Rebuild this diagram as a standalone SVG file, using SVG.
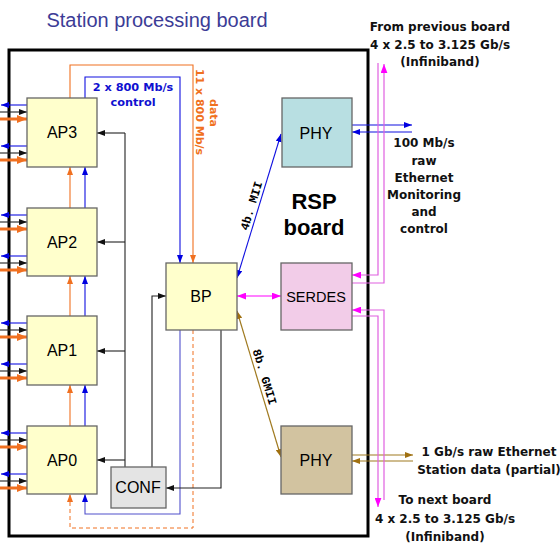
<svg xmlns="http://www.w3.org/2000/svg" width="560" height="543" viewBox="0 0 560 543">
<defs>
<style>
.box{stroke:#666;stroke-width:1.3}
.lbl{font-family:"Liberation Sans",Arial,sans-serif;font-size:16px;fill:#000;text-anchor:middle}
.cs{font-family:"DejaVu Sans",sans-serif;font-weight:bold;text-anchor:middle}
.k{stroke:#222;stroke-width:1.1;fill:none;marker-end:url(#ak)}
.b{stroke:#1010e0;stroke-width:1.1;fill:none;marker-end:url(#ab)}
.o{stroke:#f07020;stroke-width:1.1;fill:none;marker-end:url(#ao)}
.ot{stroke:#f07020;stroke-width:3;fill:none;marker-end:url(#aoT)}
.m{stroke:#e060e0;stroke-width:1.2;fill:none;marker-end:url(#am)}
.br{stroke:#a07a20;stroke-width:1.2;fill:none;marker-end:url(#abr)}
</style>
<marker id="ak" viewBox="0 0 8 6" refX="8" refY="3" markerWidth="8" markerHeight="6" markerUnits="userSpaceOnUse" orient="auto-start-reverse"><path d="M0,0L8,3L0,6z" fill="#111"/></marker>
<marker id="ab" viewBox="0 0 8 6" refX="8" refY="3" markerWidth="8" markerHeight="6" markerUnits="userSpaceOnUse" orient="auto-start-reverse"><path d="M0,0L8,3L0,6z" fill="#0000e0"/></marker>
<marker id="ao" viewBox="0 0 8 6" refX="8" refY="3" markerWidth="8" markerHeight="6" markerUnits="userSpaceOnUse" orient="auto-start-reverse"><path d="M0,0L8,3L0,6z" fill="#f07020"/></marker>
<marker id="aoT" viewBox="0 0 10 8" refX="10" refY="4" markerWidth="10" markerHeight="8" markerUnits="userSpaceOnUse" orient="auto-start-reverse"><path d="M0,0L10,4L0,8z" fill="#f07020"/></marker>
<marker id="am" viewBox="0 0 8 6" refX="8" refY="3" markerWidth="9" markerHeight="7" markerUnits="userSpaceOnUse" orient="auto-start-reverse"><path d="M0,0L8,3L0,6z" fill="#ff00ff"/></marker>
<marker id="abr" viewBox="0 0 8 6" refX="8" refY="3" markerWidth="8" markerHeight="6" markerUnits="userSpaceOnUse" orient="auto-start-reverse"><path d="M0,0L8,3L0,6z" fill="#a07010"/></marker>
</defs>
<rect width="560" height="543" fill="#fff"/>
<text x="157" y="27" font-family="Liberation Sans,Arial,sans-serif" font-size="20" fill="#3c3c96" text-anchor="middle">Station processing board</text>
<g id="board"><rect x="9" y="50" width="359" height="486" fill="#fff" stroke="#000" stroke-width="3"/>
<text x="314" y="209" font-family="Liberation Sans,Arial,sans-serif" font-size="22" font-weight="bold" text-anchor="middle">RSP</text>
<text x="314" y="235" font-family="Liberation Sans,Arial,sans-serif" font-size="22" font-weight="bold" text-anchor="middle">board</text></g>
<g id="connectors">
<!-- left AP ports -->
<g>
<line class="b" x1="27" y1="105" x2="1" y2="105"/><line class="k" x1="0" y1="112" x2="27" y2="112"/><line class="ot" x1="0" y1="119" x2="27" y2="119"/>
<line class="b" x1="27" y1="146" x2="1" y2="146"/><line class="k" x1="0" y1="153" x2="27" y2="153"/><line class="ot" x1="0" y1="160" x2="27" y2="160"/>
<line class="b" x1="27" y1="215" x2="1" y2="215"/><line class="k" x1="0" y1="222" x2="27" y2="222"/><line class="ot" x1="0" y1="229" x2="27" y2="229"/>
<line class="b" x1="27" y1="256" x2="1" y2="256"/><line class="k" x1="0" y1="263" x2="27" y2="263"/><line class="ot" x1="0" y1="270" x2="27" y2="270"/>
<line class="b" x1="27" y1="323" x2="1" y2="323"/><line class="k" x1="0" y1="330" x2="27" y2="330"/><line class="ot" x1="0" y1="337" x2="27" y2="337"/>
<line class="b" x1="27" y1="364" x2="1" y2="364"/><line class="k" x1="0" y1="371" x2="27" y2="371"/><line class="ot" x1="0" y1="378" x2="27" y2="378"/>
<line class="b" x1="27" y1="433" x2="1" y2="433"/><line class="k" x1="0" y1="440" x2="27" y2="440"/><line class="ot" x1="0" y1="447" x2="27" y2="447"/>
<line class="b" x1="27" y1="474" x2="1" y2="474"/><line class="k" x1="0" y1="481" x2="27" y2="481"/><line class="ot" x1="0" y1="488" x2="27" y2="488"/>
</g>
<!-- AP chain -->
<line class="o" x1="70" y1="208" x2="70" y2="167"/><line class="b" x1="85" y1="208" x2="85" y2="167"/>
<line class="o" x1="70" y1="316" x2="70" y2="276"/><line class="b" x1="85" y1="316" x2="85" y2="276"/>
<line class="o" x1="70" y1="426" x2="70" y2="385"/><line class="b" x1="85" y1="426" x2="85" y2="385"/>
<polyline class="o" points="70,98 70,65 193,65 193,263"/>
<polyline class="b" points="85,98 85,77 180,77 180,263"/>
<polyline style="stroke:#5050cc;stroke-width:1.1;fill:none;marker-end:url(#ab)" points="180,330 180,514 85,514 85,494"/>
<polyline style="stroke:#f07020;stroke-width:1;stroke-dasharray:4,3;fill:none;marker-end:url(#ao)" points="193,330 193,528 70,528 70,494"/>
<!-- control -->
<line x1="125" y1="133" x2="125" y2="467" stroke="#222" stroke-width="1.1"/>
<line class="k" x1="125" y1="133" x2="97" y2="133"/>
<line class="k" x1="125" y1="242" x2="97" y2="242"/>
<line class="k" x1="125" y1="351" x2="97" y2="351"/>
<line class="k" x1="125" y1="460" x2="97" y2="460"/>
<polyline class="k" points="152,467 152,296 166,296"/>
<polyline class="k" points="221,330 221,488 166,488"/>
<!-- BP links -->
<line class="b" x1="237" y1="278" x2="281" y2="134" marker-start="url(#ab)"/>
<line class="br" x1="237" y1="311" x2="281" y2="457" marker-start="url(#abr)"/>
<line class="m" x1="237" y1="296" x2="281" y2="296" marker-start="url(#am)" style="stroke:#ff00ff"/>
<line class="b" x1="352" y1="125" x2="412" y2="125"/>
<line class="b" x1="412" y1="132" x2="352" y2="132"/>
<line class="br" x1="352" y1="455" x2="413" y2="455"/>
<line class="br" x1="413" y1="461" x2="352" y2="461"/>
<polyline class="m" points="378,63 378,275 352,275"/>
<polyline class="m" points="352,283 384,283 384,64"/>
<polyline class="m" points="352,316 378,316 378,507"/>
<polyline class="m" points="384,500 384,310 352,310"/>
<!-- connector labels -->
<text class="cs" x="133" y="91" font-size="11.3" fill="#1010d0">2 x 800 Mb/s</text>
<text class="cs" x="133" y="106" font-size="11.3" fill="#1010d0">control</text>
<text class="cs" transform="translate(196,112) rotate(90)" font-size="11" fill="#f07020">11 x 800 Mb/s</text>
<text class="cs" transform="translate(210,113) rotate(90)" font-size="11" fill="#f07020">data</text>
<text transform="translate(255,207) rotate(-73)" font-family="Liberation Mono,monospace" font-weight="bold" font-size="12" text-anchor="middle">4b. MII</text>
<text transform="translate(261,378) rotate(73)" font-family="Liberation Mono,monospace" font-weight="bold" font-size="12" text-anchor="middle">8b. GMII</text>
</g>
<g id="AP3"><rect class="box" x="27" y="98" width="70" height="69" fill="#ffffcc"/><text class="lbl" x="62" y="138">AP3</text></g>
<g id="AP2"><rect class="box" x="27" y="208" width="70" height="68" fill="#ffffcc"/><text class="lbl" x="62" y="248">AP2</text></g>
<g id="AP1"><rect class="box" x="27" y="316" width="70" height="69" fill="#ffffcc"/><text class="lbl" x="62" y="356">AP1</text></g>
<g id="AP0"><rect class="box" x="27" y="426" width="70" height="68" fill="#ffffcc"/><text class="lbl" x="62" y="466">AP0</text></g>
<g id="BP"><rect class="box" x="166" y="263" width="71" height="67" fill="#ffffcc" stroke="#333"/><text class="lbl" x="201" y="302">BP</text></g>
<g id="CONF"><rect class="box" x="111" y="467" width="55" height="41" fill="#e4e4e4"/><text class="lbl" x="138" y="493">CONF</text></g>
<g id="PHY1"><rect class="box" x="282" y="98" width="70" height="69" fill="#b8dfe2"/><text class="lbl" x="316" y="139">PHY</text></g>
<g id="SERDES"><rect class="box" x="281" y="263" width="71" height="67" fill="#f2cce8"/><text class="lbl" x="316" y="302" style="font-size:14.5px">SERDES</text></g>
<g id="PHY2"><rect class="box" x="281" y="426" width="71" height="68" fill="#d2c3a0"/><text class="lbl" x="316" y="466">PHY</text></g>
<g id="labels" class="cs" font-size="12" fill="#111">
<text class="cs" x="440" y="31">From previous board</text>
<text class="cs" x="440" y="49">4 x 2.5 to 3.125 Gb/s</text>
<text class="cs" x="440" y="66">(Infiniband)</text>
<text class="cs" x="424" y="147">100 Mb/s</text>
<text class="cs" x="424" y="165">raw</text>
<text class="cs" x="424" y="182">Ethernet</text>
<text class="cs" x="424" y="199">Monitoring</text>
<text class="cs" x="424" y="216">and</text>
<text class="cs" x="424" y="233">control</text>
<text class="cs" x="489" y="456">1 Gb/s raw Ethernet</text>
<text class="cs" x="489" y="474">Station data (partial)</text>
<text class="cs" x="445" y="504">To next board</text>
<text class="cs" x="445" y="523">4 x 2.5 to 3.125 Gb/s</text>
<text class="cs" x="445" y="541">(Infiniband)</text>
</g>
</svg>
